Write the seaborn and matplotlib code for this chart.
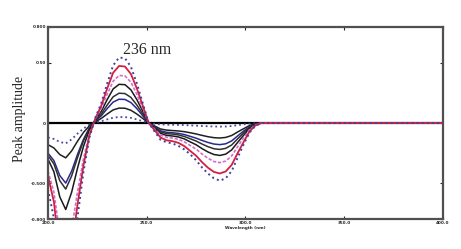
import numpy as np
import pandas as pd
import seaborn as sns
import matplotlib
matplotlib.use('Agg')
import matplotlib.pyplot as plt

# wavelength grid (nm)
wl = [200, 203, 206, 209, 212, 215, 218, 221, 224, 227, 230, 233, 236, 239, 242, 245, 248, 251,
      254, 257, 260, 263, 266, 269, 272, 275, 278, 281, 284, 287, 290, 293, 296, 299, 302, 305, 308, 400]

# first derivative spectra (largest to smallest)
c1 = [-0.55, -0.79, -1.26, -1.50, -1.20, -0.78, -0.405, -0.12,
      0.044, 0.165, 0.33, 0.479, 0.545, 0.539, 0.468, 0.33, 0.165, 0.0,
      -0.07, -0.14, -0.16, -0.17, -0.19, -0.22, -0.26, -0.31, -0.37, -0.42, -0.46, -0.48,
      -0.46, -0.40, -0.29, -0.18, -0.08, -0.024, 0.0, 0.0]
c2 = [-0.44, -0.655, -1.085, -1.30, -1.04, -0.676, -0.351, -0.104,
      0.038, 0.144, 0.288, 0.418, 0.475, 0.47, 0.408, 0.288, 0.144, 0.0,
      -0.060, -0.121, -0.144, -0.151, -0.165, -0.192, -0.232, -0.272, -0.326, -0.372, -0.407, -0.42,
      -0.403, -0.349, -0.252, -0.160, -0.071, -0.021, 0.0, 0.0]
c3 = [-0.40, -0.575, -0.925, -1.10, -0.88, -0.572, -0.297, -0.088,
      0.032, 0.12, 0.24, 0.348, 0.396, 0.392, 0.34, 0.24, 0.12, 0.0,
      -0.050, -0.100, -0.119, -0.125, -0.136, -0.156, -0.187, -0.217, -0.258, -0.293, -0.320, -0.33,
      -0.317, -0.274, -0.198, -0.125, -0.056, -0.017, 0.0, 0.0]
c4 = [-0.30, -0.405, -0.615, -0.72, -0.576, -0.374, -0.194, -0.058,
      0.026, 0.098, 0.195, 0.283, 0.322, 0.319, 0.276, 0.195, 0.098, 0.0,
      -0.043, -0.086, -0.103, -0.108, -0.116, -0.132, -0.157, -0.181, -0.213, -0.241, -0.262, -0.27,
      -0.259, -0.224, -0.162, -0.103, -0.046, -0.014, 0.0, 0.0]
c5 = [-0.27, -0.34, -0.48, -0.55, -0.44, -0.286, -0.149, -0.044,
      0.02, 0.075, 0.15, 0.218, 0.248, 0.245, 0.213, 0.15, 0.075, 0.0,
      -0.037, -0.074, -0.088, -0.092, -0.099, -0.112, -0.131, -0.150, -0.175, -0.197, -0.214, -0.22,
      -0.211, -0.183, -0.132, -0.084, -0.037, -0.011, 0.0, 0.0]
c6 = [-0.25, -0.3125, -0.4375, -0.50, -0.40, -0.26, -0.135, -0.04,
      0.016, 0.06, 0.12, 0.174, 0.198, 0.196, 0.17, 0.12, 0.06, 0.0,
      -0.032, -0.065, -0.077, -0.081, -0.086, -0.096, -0.111, -0.126, -0.145, -0.162, -0.175, -0.18,
      -0.173, -0.149, -0.108, -0.068, -0.031, -0.009, 0.0, 0.0]
c7 = [-0.18, -0.2075, -0.2625, -0.29, -0.232, -0.151, -0.078, -0.023,
      0.01, 0.038, 0.075, 0.109, 0.124, 0.123, 0.106, 0.075, 0.038, 0.0,
      -0.025, -0.05, -0.059, -0.063, -0.066, -0.072, -0.081, -0.091, -0.103, -0.114, -0.122, -0.125,
      -0.12, -0.104, -0.075, -0.048, -0.021, -0.006, 0.0, 0.0]
c8 = [-0.12, -0.1325, -0.1575, -0.17, -0.136, -0.088, -0.046, -0.014,
      0.004, 0.015, 0.03, 0.044, 0.05, 0.049, 0.043, 0.03, 0.015, 0.0,
      -0.006, -0.012, -0.014, -0.015, -0.016, -0.017, -0.02, -0.022, -0.025, -0.027, -0.029, -0.03,
      -0.029, -0.025, -0.018, -0.011, -0.005, -0.002, 0.0, 0.0]
blank = [0.0] * len(wl)

curves = [blank, c8, c7, c6, c5, c4, c3, c2, c1]
colors = ['black', '#4848a8', '#202020', '#2a2a8c', '#303030', '#1a1a1a', '#d070c8', '#d42040', '#4040a0']
styles = ['-', ':', '-', '-', '-', '-', (0, (2, 1)), '-', ':']
widths = [1.6, 1.3, 1.1, 1.1, 1.1, 1.1, 1.2, 1.3, 1.4]

yticks = [0.8, 0.5, 0.0, -0.5, -0.8]
ytick_labels = ['0.800', '0.50', '0', '-0.500', '-0.800']
xticks = [200, 250, 300, 350, 400]
xtick_labels = ['200.0', '250.0', '300.0', '350.0', '400.0']

sns.set_style('white')
fig = plt.figure(figsize=(4.61, 2.49), dpi=100)
ax = fig.add_axes([0.104, 0.120, 0.857, 0.772])

for y, col, ls, lw in zip(curves, colors, styles, widths):
    sns.lineplot(x=wl, y=y, ax=ax, color=col, linestyle=ls, linewidth=lw)

ax.set_xlim(200, 400)
ax.set_ylim(-0.8, 0.8)
ax.set_xticks(xticks)
ax.set_xticklabels(xtick_labels, fontsize=3, fontweight='bold')
ax.set_yticks(yticks)
ax.set_yticklabels(ytick_labels, fontsize=3, fontweight='bold')
ax.tick_params(direction='in', length=2, width=0.8, pad=1.5, top=True, right=True,
               bottom=True, left=True)
for s in ax.spines.values():
    s.set_color('#505050')
    s.set_linewidth(1.6)

ax.set_xlabel('Wavelength (nm)', fontsize=3, fontweight='bold', labelpad=0.5)
ax.set_ylabel('Peak amplitude', fontsize=10, family='Liberation Serif')
ax.yaxis.set_label_coords(-0.056, 0.52)
ax.text(238, 0.61, '236 nm', fontsize=11.5, family='Liberation Serif', ha='left', va='center')

fig.savefig('out.png', dpi=100)
